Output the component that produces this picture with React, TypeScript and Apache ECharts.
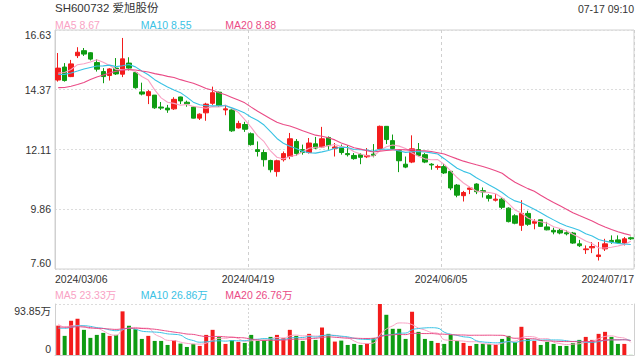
import React, { useEffect, useRef } from "react";
import * as echarts from "echarts";

// Trading days shown (2024)
const marDays = [6, 7, 8, 11, 12, 13, 14, 15, 18, 19, 20, 21, 22, 25, 26, 27, 28, 29];
const aprDays = [1, 2, 3, 8, 9, 10, 11, 12, 15, 16, 17, 18, 19, 22, 23, 24, 25, 26, 29, 30];
const mayDays = [6, 7, 8, 9, 10, 13, 14, 15, 16, 17, 20, 21, 22, 23, 24, 27, 28, 29, 30, 31];
const junDays = [3, 4, 5, 6, 7, 11, 12, 13, 14, 17, 18, 19, 20, 21, 24, 25, 26, 27, 28];
const julDays = [1, 2, 3, 4, 5, 8, 9, 10, 11, 12, 15, 16, 17];

const xTickLabels = ["2024/03/06", "2024/04/19", "2024/06/05", "2024/07/17"];
const priceTickLabels = ["7.60", "9.86", "12.11", "14.37", "16.63"];
const volTickLabels = ["0", "93.85万"];

const opens = [
  14.74, 15.23, 14.87, 15.66, 15.85, 15.77, 15.40, 15.06, 14.91, 15.19,
  14.96, 15.38, 15.02, 14.29, 14.15, 14.17, 13.72, 13.68, 13.65, 14.10,
  13.90, 13.72, 13.30, 13.50, 13.86, 14.28, 13.61, 13.61, 12.93, 13.06,
  12.71, 12.11, 12.00, 11.70, 11.28, 11.73, 11.85, 12.42, 12.11, 12.00,
  12.33, 12.21, 12.57, 12.16, 12.21, 11.96, 11.89, 11.92, 11.84, 11.94,
  12.13, 12.99, 12.45, 12.07, 11.56, 11.64, 12.11, 11.92, 11.56, 11.44,
  11.47, 11.29, 10.77, 10.37, 10.61, 10.81, 10.56, 10.37, 10.20, 10.24,
  9.90, 9.61, 9.25, 9.70, 9.33, 9.46, 9.19, 9.06, 9.06, 8.97,
  8.96, 8.55, 8.33, 8.40, 8.07, 8.36, 8.68, 8.70, 8.58, 8.78,
];
const closes = [
  15.19, 14.72, 15.35, 15.79, 15.72, 15.53, 15.15, 14.87, 15.16, 14.97,
  15.54, 15.19, 14.45, 14.21, 14.30, 13.69, 13.68, 13.61, 14.01, 13.95,
  13.84, 13.30, 13.45, 13.83, 14.26, 13.77, 13.65, 12.82, 13.10, 12.88,
  12.30, 12.04, 11.73, 11.35, 11.69, 11.96, 12.52, 11.96, 12.00, 12.36,
  12.17, 12.52, 12.26, 12.21, 12.00, 11.92, 11.77, 11.82, 11.89, 11.89,
  12.99, 12.49, 12.15, 11.69, 11.45, 12.14, 11.89, 11.64, 11.53, 11.47,
  11.23, 10.66, 10.39, 10.49, 10.66, 10.52, 10.51, 10.27, 10.24, 9.93,
  9.39, 9.33, 9.70, 9.29, 9.39, 9.21, 9.08, 9.00, 8.96, 8.93,
  8.58, 8.48, 8.36, 8.45, 8.13, 8.55, 8.63, 8.60, 8.74, 8.74,
];
const lows = [
  14.68, 14.68, 14.85, 15.57, 15.65, 15.48, 15.06, 14.62, 14.72, 14.93,
  14.85, 15.10, 14.41, 14.16, 13.83, 13.65, 13.61, 13.50, 13.61, 13.83,
  13.73, 13.29, 13.23, 13.20, 13.80, 13.73, 13.41, 12.78, 12.91, 12.78,
  12.26, 11.85, 11.47, 11.25, 11.09, 11.66, 11.75, 11.88, 11.92, 11.96,
  12.13, 12.17, 12.11, 11.85, 11.92, 11.85, 11.73, 11.56, 11.79, 11.82,
  12.11, 12.32, 12.11, 11.26, 11.41, 11.60, 11.85, 11.60, 11.35, 11.35,
  11.19, 10.58, 10.31, 10.15, 10.43, 10.43, 10.30, 10.15, 10.15, 9.86,
  9.36, 9.29, 9.04, 9.23, 9.10, 9.19, 9.06, 8.91, 8.91, 8.87,
  8.55, 8.43, 8.17, 8.20, 7.92, 8.28, 8.55, 8.55, 8.49, 8.70,
];
const highs = [
  15.76, 15.38, 15.50, 15.98, 15.95, 15.79, 15.53, 15.19, 15.19, 15.57,
  16.33, 15.60, 15.02, 14.64, 14.36, 14.17, 13.91, 13.80, 14.09, 14.11,
  13.96, 13.76, 13.48, 13.88, 14.49, 14.30, 13.80, 13.63, 13.20, 13.16,
  12.76, 12.42, 12.11, 11.73, 11.73, 12.04, 12.74, 12.51, 12.30, 12.55,
  12.59, 12.97, 12.61, 12.36, 12.30, 12.27, 11.98, 11.98, 12.17, 12.32,
  13.02, 12.99, 12.68, 12.07, 11.85, 12.65, 12.36, 11.98, 11.60, 11.54,
  11.57, 11.31, 10.81, 10.55, 10.71, 10.84, 10.68, 10.43, 10.43, 10.30,
  9.93, 9.67, 10.20, 9.80, 9.48, 9.46, 9.38, 9.16, 9.12, 9.06,
  9.00, 8.70, 8.49, 8.62, 8.62, 8.74, 8.87, 8.87, 8.81, 8.82,
];
// volume in 万
const volumes = [
  54, 35.2, 63, 66.7, 46.3, 31.5, 37, 40.7, 35.2, 37,
  80.3, 53.7, 47.5, 29.6, 35.2, 25.9, 25.9, 18.5, 27.2, 21,
  14.8, 20.4, 16.7, 37, 46.3, 33.3, 20.4, 27.2, 24.1, 22.2,
  37, 25.9, 27.8, 33.3, 37, 31.5, 46.3, 35.2, 25.9, 38.9,
  27.8, 50.6, 38.9, 24.7, 26.5, 18.5, 20.4, 18.5, 21.6, 30.9,
  93.85, 74, 48.2, 48.2, 29.6, 79.6, 42.6, 29.6, 25.9, 22.2,
  20.4, 37, 25.9, 22.2, 16.7, 20.4, 20.4, 20.4, 18.5, 29.6,
  35.2, 23.5, 51.9, 29.6, 25.9, 18.5, 24.1, 20.4, 16.7, 16.7,
  22.2, 27.8, 33.3, 27.8, 38.9, 42.6, 33.3, 20.4, 20.4, 0.2,
];
// estimated closes / volumes of the 19 sessions before the window (for the moving averages)
const preCloses = [14.6, 14.45, 14.5, 14.2, 13.3, 13.15, 13.4, 13.6, 13.75, 14.63, 14.7, 14.82, 15.05, 14.95, 14.97, 14.6, 14.8, 14.87, 15.55];
const preVolumes = [55, 60, 50, 58, 52, 62, 48, 55, 50, 56, 38, 45, 40, 44, 43, 60, 55, 62, 53];

const priceMaValues = ["8.67", "8.55", "8.88"];
const volMaValues = ["23.33万", "26.86万", "26.76万"];
const maNames = ["MA5", "MA10", "MA20"];
const maPeriods = [5, 10, 20];

const UP = "#f31c1c";
const DOWN = "#0e9c12";
const MA_COLORS = ["#f9a2c4", "#39c2e4", "#ea4b86"];
const FONT = "'Liberation Sans', Arial, 'Noto Sans CJK SC', sans-serif";

function pad(n: number) {
  return n < 10 ? "0" + n : "" + n;
}
const dates: string[] = [];
[[3, marDays], [4, aprDays], [5, mayDays], [6, junDays], [7, julDays]].forEach(([m, days]: any) => {
  days.forEach((d: number) => dates.push(`2024/${pad(m)}/${pad(d)}`));
});

function movingAvg(pre: number[], vals: number[], n: number) {
  const all = pre.concat(vals);
  return vals.map((_, i) => {
    const end = pre.length + i;
    let s = 0;
    for (let k = end - n + 1; k <= end; k++) s += all[k];
    return +(s / n).toFixed(3);
  });
}

export default function App() {
  const ref = useRef<HTMLDivElement>(null);
  useEffect(() => {
    document.body.style.margin = "0";
    const chart = echarts.init(ref.current!, null, { renderer: "svg" });
    const candleData = opens.map((o, i) => [o, closes[i], lows[i], highs[i]]);
    const volData = volumes.map((v, i) => ({
      value: v,
      itemStyle: { color: closes[i] >= opens[i] ? UP : DOWN },
    }));
    const pMin = 7.6;
    const pMax = 16.63;
    const pInt = (pMax - pMin) / 4;
    const vMax = 93.85;

    const legendTexts: any[] = [];
    const legendX = [55, 140.7, 225.3];
    maNames.forEach((nm, i) => {
      legendTexts.push({
        type: "text",
        x: legendX[i],
        y: 24.5,
        style: { text: `${nm} ${priceMaValues[i]}`, fill: MA_COLORS[i], font: `10.5px ${FONT}`, verticalAlign: "middle" },
      });
      legendTexts.push({
        type: "text",
        x: legendX[i],
        y: 294.5,
        style: { text: `${nm} ${volMaValues[i]}`, fill: MA_COLORS[i], font: `10.5px ${FONT}`, verticalAlign: "middle" },
      });
    });

    const priceMaSeries = maPeriods.map((p, i) => ({
      type: "line",
      xAxisIndex: 0,
      yAxisIndex: 0,
      data: movingAvg(preCloses, closes, p),
      showSymbol: false,
      symbol: "none",
      lineStyle: { width: 1.1, color: MA_COLORS[i] },
      z: 5,
    }));
    const volMaSeries = maPeriods.map((p, i) => ({
      type: "line",
      xAxisIndex: 2,
      yAxisIndex: 1,
      data: movingAvg(preVolumes, volumes, p),
      showSymbol: false,
      symbol: "none",
      smooth: true,
      lineStyle: { width: 1, color: MA_COLORS[i] },
      z: 5,
    }));

    const labelStyle = { color: "#333", fontSize: 10.5, fontFamily: FONT };

    chart.setOption({
      animation: false,
      textStyle: { fontFamily: FONT },
      grid: [
        { left: 55, right: 6, top: 30, height: 239, show: true, borderColor: "#d0d0d0", borderWidth: 1 },
        { left: 55, right: 6, top: 304, height: 51 },
      ],
      graphic: [
        {
          type: "text",
          x: 55,
          y: 8,
          style: { text: "SH600732 爱旭股份", fill: "#333", font: `11.5px ${FONT}`, verticalAlign: "middle" },
        },
        {
          type: "text",
          x: 634,
          y: 9,
          style: { text: "07-17 09:10", fill: "#333", font: `10.5px ${FONT}`, align: "right", verticalAlign: "middle" },
        },
        ...legendTexts,
      ],
      xAxis: [
        {
          type: "category",
          gridIndex: 0,
          position: "bottom",
          data: dates,
          boundaryGap: true,
          axisLine: { show: false },
          axisTick: { show: false },
          axisLabel: { show: false },
          splitLine: { show: false },
        },
        {
          type: "value",
          gridIndex: 0,
          position: "bottom",
          min: 0,
          max: 3,
          interval: 1,
          axisLine: { show: false },
          axisTick: { show: false },
          axisLabel: {
            ...labelStyle,
            margin: 5,
            alignMinLabel: "left",
            alignMaxLabel: "right",
            formatter: (v: number) => xTickLabels[Math.round(v)] ?? "",
          },
          splitLine: { show: true, lineStyle: { color: "#cfcfcf", type: [3, 3] } },
        },
        {
          type: "category",
          gridIndex: 1,
          position: "bottom",
          data: dates,
          boundaryGap: true,
          axisLine: { show: true, lineStyle: { color: "#d0d0d0" } },
          axisTick: { show: false },
          axisLabel: { show: false },
          splitLine: { show: false },
        },
        {
          type: "value",
          gridIndex: 1,
          position: "bottom",
          min: 0,
          max: 3,
          interval: 1,
          axisLine: { show: false },
          axisTick: { show: false },
          axisLabel: { show: false },
          splitLine: { show: true, lineStyle: { color: "#d5d5d5", type: [2, 2] } },
        },
      ],
      yAxis: [
        {
          type: "value",
          gridIndex: 0,
          min: pMin,
          max: pMax,
          interval: pInt,
          axisLine: { show: true, lineStyle: { color: "#d0d0d0" } },
          axisTick: { show: false },
          axisLabel: {
            ...labelStyle,
            margin: 4,
            formatter: (v: number) => {
              const idx = Math.round((v - pMin) / pInt);
              const t = priceTickLabels[idx] ?? "";
              if (idx === 4) return `{top|${t}}`;
              if (idx === 0) return `{bot|${t}}`;
              return t;
            },
            rich: {
              top: { ...labelStyle, padding: [10, 0, 0, 0] },
              bot: { ...labelStyle, padding: [0, 0, 12, 0] },
            },
          },
          splitLine: { show: true, lineStyle: { color: "#dcdcdc", type: [2, 2] } },
        },
        {
          type: "value",
          gridIndex: 1,
          min: 0,
          max: vMax,
          interval: vMax,
          axisLine: { show: true, lineStyle: { color: "#d0d0d0" } },
          axisTick: { show: false },
          axisLabel: {
            ...labelStyle,
            margin: 4,
            formatter: (v: number) => (v > 0 ? `{top|${volTickLabels[1]}}` : `{bot|${volTickLabels[0]}}`),
            rich: {
              top: { ...labelStyle, padding: [14, 0, 0, 0] },
              bot: { ...labelStyle, padding: [0, 0, 13, 0] },
            },
          },
          splitLine: { show: true, lineStyle: { color: "#dcdcdc", type: [2, 2] } },
        },
        {
          type: "value",
          gridIndex: 1,
          position: "right",
          min: 0,
          max: vMax,
          axisLine: { show: true, lineStyle: { color: "#d0d0d0" } },
          axisTick: { show: false },
          axisLabel: { show: false },
          splitLine: { show: false },
        },
      ],
      series: [
        {
          type: "candlestick",
          xAxisIndex: 0,
          yAxisIndex: 0,
          data: candleData,
          barWidth: 5,
          itemStyle: { color: UP, color0: DOWN, borderColor: UP, borderColor0: DOWN, borderWidth: 1 },
          z: 3,
        },
        ...priceMaSeries,
        {
          type: "bar",
          xAxisIndex: 2,
          yAxisIndex: 1,
          data: volData,
          barWidth: 4,
          z: 3,
        },
        ...volMaSeries,
      ],
    });
    return () => chart.dispose();
  }, []);
  return <div ref={ref} style={{ width: 640, height: 360 }} />;
}
